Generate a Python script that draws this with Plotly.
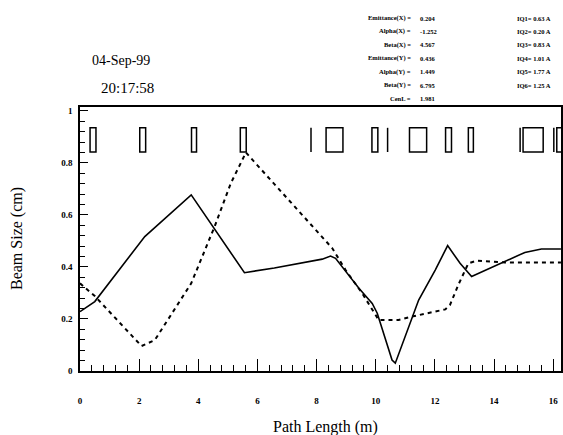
import plotly.graph_objects as go

# Beam envelope data
x_path = [0.0, 0.5, 2.19, 3.76, 5.56, 6.57, 8.19, 8.47, 8.64, 9.43, 9.88, 10.05, 10.55, 10.66,
          11.45, 12.01, 12.43, 12.85, 13.24, 14.37, 15.04, 15.6, 16.26]
size_x = [0.228, 0.267, 0.517, 0.677, 0.378, 0.396, 0.43, 0.442, 0.433, 0.318, 0.26, 0.222, 0.042, 0.03,
          0.273, 0.388, 0.482, 0.414, 0.363, 0.42, 0.456, 0.469, 0.469]

y_path = [0.0, 0.5, 2.08, 2.53, 3.76, 4.55, 5.1, 5.61, 6.29, 7.0, 8.0, 8.53, 8.98, 9.54, 10.1, 10.77,
          11.22, 12.35, 12.51, 12.79, 13.13, 13.41, 14.37, 16.26]
size_y = [0.337, 0.288, 0.096, 0.119, 0.337, 0.555, 0.722, 0.84, 0.754, 0.665, 0.54, 0.472, 0.388, 0.299, 0.196, 0.196,
          0.209, 0.237, 0.254, 0.331, 0.414, 0.424, 0.417, 0.417]

# Beamline elements (boxes and thin markers)
elem_start = [0.34, 2.02, 3.77, 5.42, 8.32, 9.87, 11.14, 12.36, 13.13, 14.98, 16.12]
elem_end = [0.54, 2.22, 3.94, 5.62, 8.89, 10.07, 11.72, 12.56, 13.30, 15.66, 16.8]
marker_pos = [7.81, 10.40, 14.88, 16.02]
elem_bottom = 0.842
elem_top = 0.935

param_labels = ["Emittance(X) =", "Alpha(X) =", "Beta(X) =", "Emittance(Y) =", "Alpha(Y) =", "Beta(Y) =", "CenL ="]
param_values = ["0.204", "-1.252", "4.567", "0.436", "1.449", "6.795", "1.981"]
iq_labels = ["IQ1=", "IQ2=", "IQ3=", "IQ4=", "IQ5=", "IQ6="]
iq_values = ["0.63 A", "0.20 A", "0.83 A", "1.01 A", "1.77 A", "1.25 A"]

date_text = "04-Sep-99"
time_text = "20:17:58"

W, H = 563, 435
L, R, T, B = 80, 0, 107, 64
pw = W - L - R

def px_to_paper_x(px):
    return (px - L) / pw

serif = "Liberation Serif"
fig = go.Figure()
fig.add_trace(go.Scatter(x=x_path, y=size_x, mode="lines",
                         line=dict(color="black", width=1.6), showlegend=False))
fig.add_trace(go.Scatter(x=y_path, y=size_y, mode="lines",
                         line=dict(color="black", width=2, dash="4px,4px"), showlegend=False))

shapes = []
for s, e in zip(elem_start, elem_end):
    shapes.append(dict(type="rect", xref="x", yref="y", x0=s, x1=e, y0=elem_bottom, y1=elem_top,
                       line=dict(color="black", width=1.5), fillcolor="rgba(0,0,0,0)"))
for m in marker_pos:
    shapes.append(dict(type="line", xref="x", yref="y", x0=m, x1=m, y0=elem_bottom, y1=elem_top,
                       line=dict(color="black", width=1.5)))

annotations = []
tf = dict(family=serif, size=6.5, color="black")
row_y0 = 18
row_dy = 13.4
for i, (lab, val) in enumerate(zip(param_labels, param_values)):
    ys = T - (row_y0 + i * row_dy)
    annotations.append(dict(text="<b>%s</b>" % lab, xref="paper", yref="paper", x=px_to_paper_x(414),
                            y=1, yshift=ys, xanchor="right", yanchor="middle", showarrow=False, font=tf))
    annotations.append(dict(text="<b>%s</b>" % val, xref="paper", yref="paper", x=px_to_paper_x(419),
                            y=1, yshift=ys, xanchor="left", yanchor="middle", showarrow=False, font=tf))
for i, (lab, val) in enumerate(zip(iq_labels, iq_values)):
    ys = T - (row_y0 + i * row_dy)
    annotations.append(dict(text="<b>%s %s</b>" % (lab, val), xref="paper", yref="paper",
                            x=px_to_paper_x(517), y=1, yshift=ys, xanchor="left", yanchor="middle",
                            showarrow=False, font=tf))

annotations.append(dict(text=date_text, xref="paper", yref="paper", x=px_to_paper_x(121), y=1,
                        yshift=T - 60, xanchor="center", yanchor="middle", showarrow=False,
                        font=dict(family=serif, size=14, color="black")))
annotations.append(dict(text=time_text, xref="paper", yref="paper", x=px_to_paper_x(128), y=1,
                        yshift=T - 88, xanchor="center", yanchor="middle", showarrow=False,
                        font=dict(family=serif, size=15, color="black")))
annotations.append(dict(text="Path Length (m)", xref="paper", yref="paper", x=px_to_paper_x(327), y=0,
                        yshift=-56, xanchor="center", yanchor="middle", showarrow=False,
                        font=dict(family=serif, size=16, color="black")))
annotations.append(dict(text="Beam Size (cm)", xref="paper", yref="paper", x=0, xshift=-63, y=0.5,
                        xanchor="center", yanchor="middle", textangle=-90, showarrow=False,
                        font=dict(family=serif, size=16, color="black")))

fig.update_layout(
    width=W, height=H, margin=dict(l=L, r=R, t=T, b=B),
    paper_bgcolor="white", plot_bgcolor="white",
    shapes=shapes, annotations=annotations,
    font=dict(family=serif, color="black"),
    xaxis=dict(range=[0, pw / 29.7], dtick=2, tick0=0, showgrid=False, zeroline=False,
               showline=True, linecolor="black", linewidth=1.5, mirror=True,
               ticks="inside", ticklen=12, tickwidth=1.3, tickcolor="black", ticklabeloverflow="allow",
               ticklabelstandoff=20, tickfont=dict(family=serif, size=9, color="black", weight="bold"),
               minor=dict(dtick=0.4, ticks="inside", ticklen=6, tickwidth=1.2, tickcolor="black")),
    yaxis=dict(range=[0, 1.015], dtick=0.2, tick0=0, showgrid=False, zeroline=False,
               showline=True, linecolor="black", linewidth=1.5, mirror=True,
               ticks="inside", ticklen=8, tickwidth=1.3, tickcolor="black",
               tickvals=[0, 0.2, 0.4, 0.6, 0.8, 1], ticktext=["0", "0.2", "0.4", "0.6", "0.8", "1"],
               ticklabelstandoff=4, tickfont=dict(family=serif, size=9, color="black", weight="bold"),
               minor=dict(dtick=0.04, ticks="inside", ticklen=5, tickwidth=1.2, tickcolor="black")),
)

fig.write_html("out.html", config={"displayModeBar": False},
               post_script="document.body.style.margin='0';document.body.style.overflow='hidden';")
